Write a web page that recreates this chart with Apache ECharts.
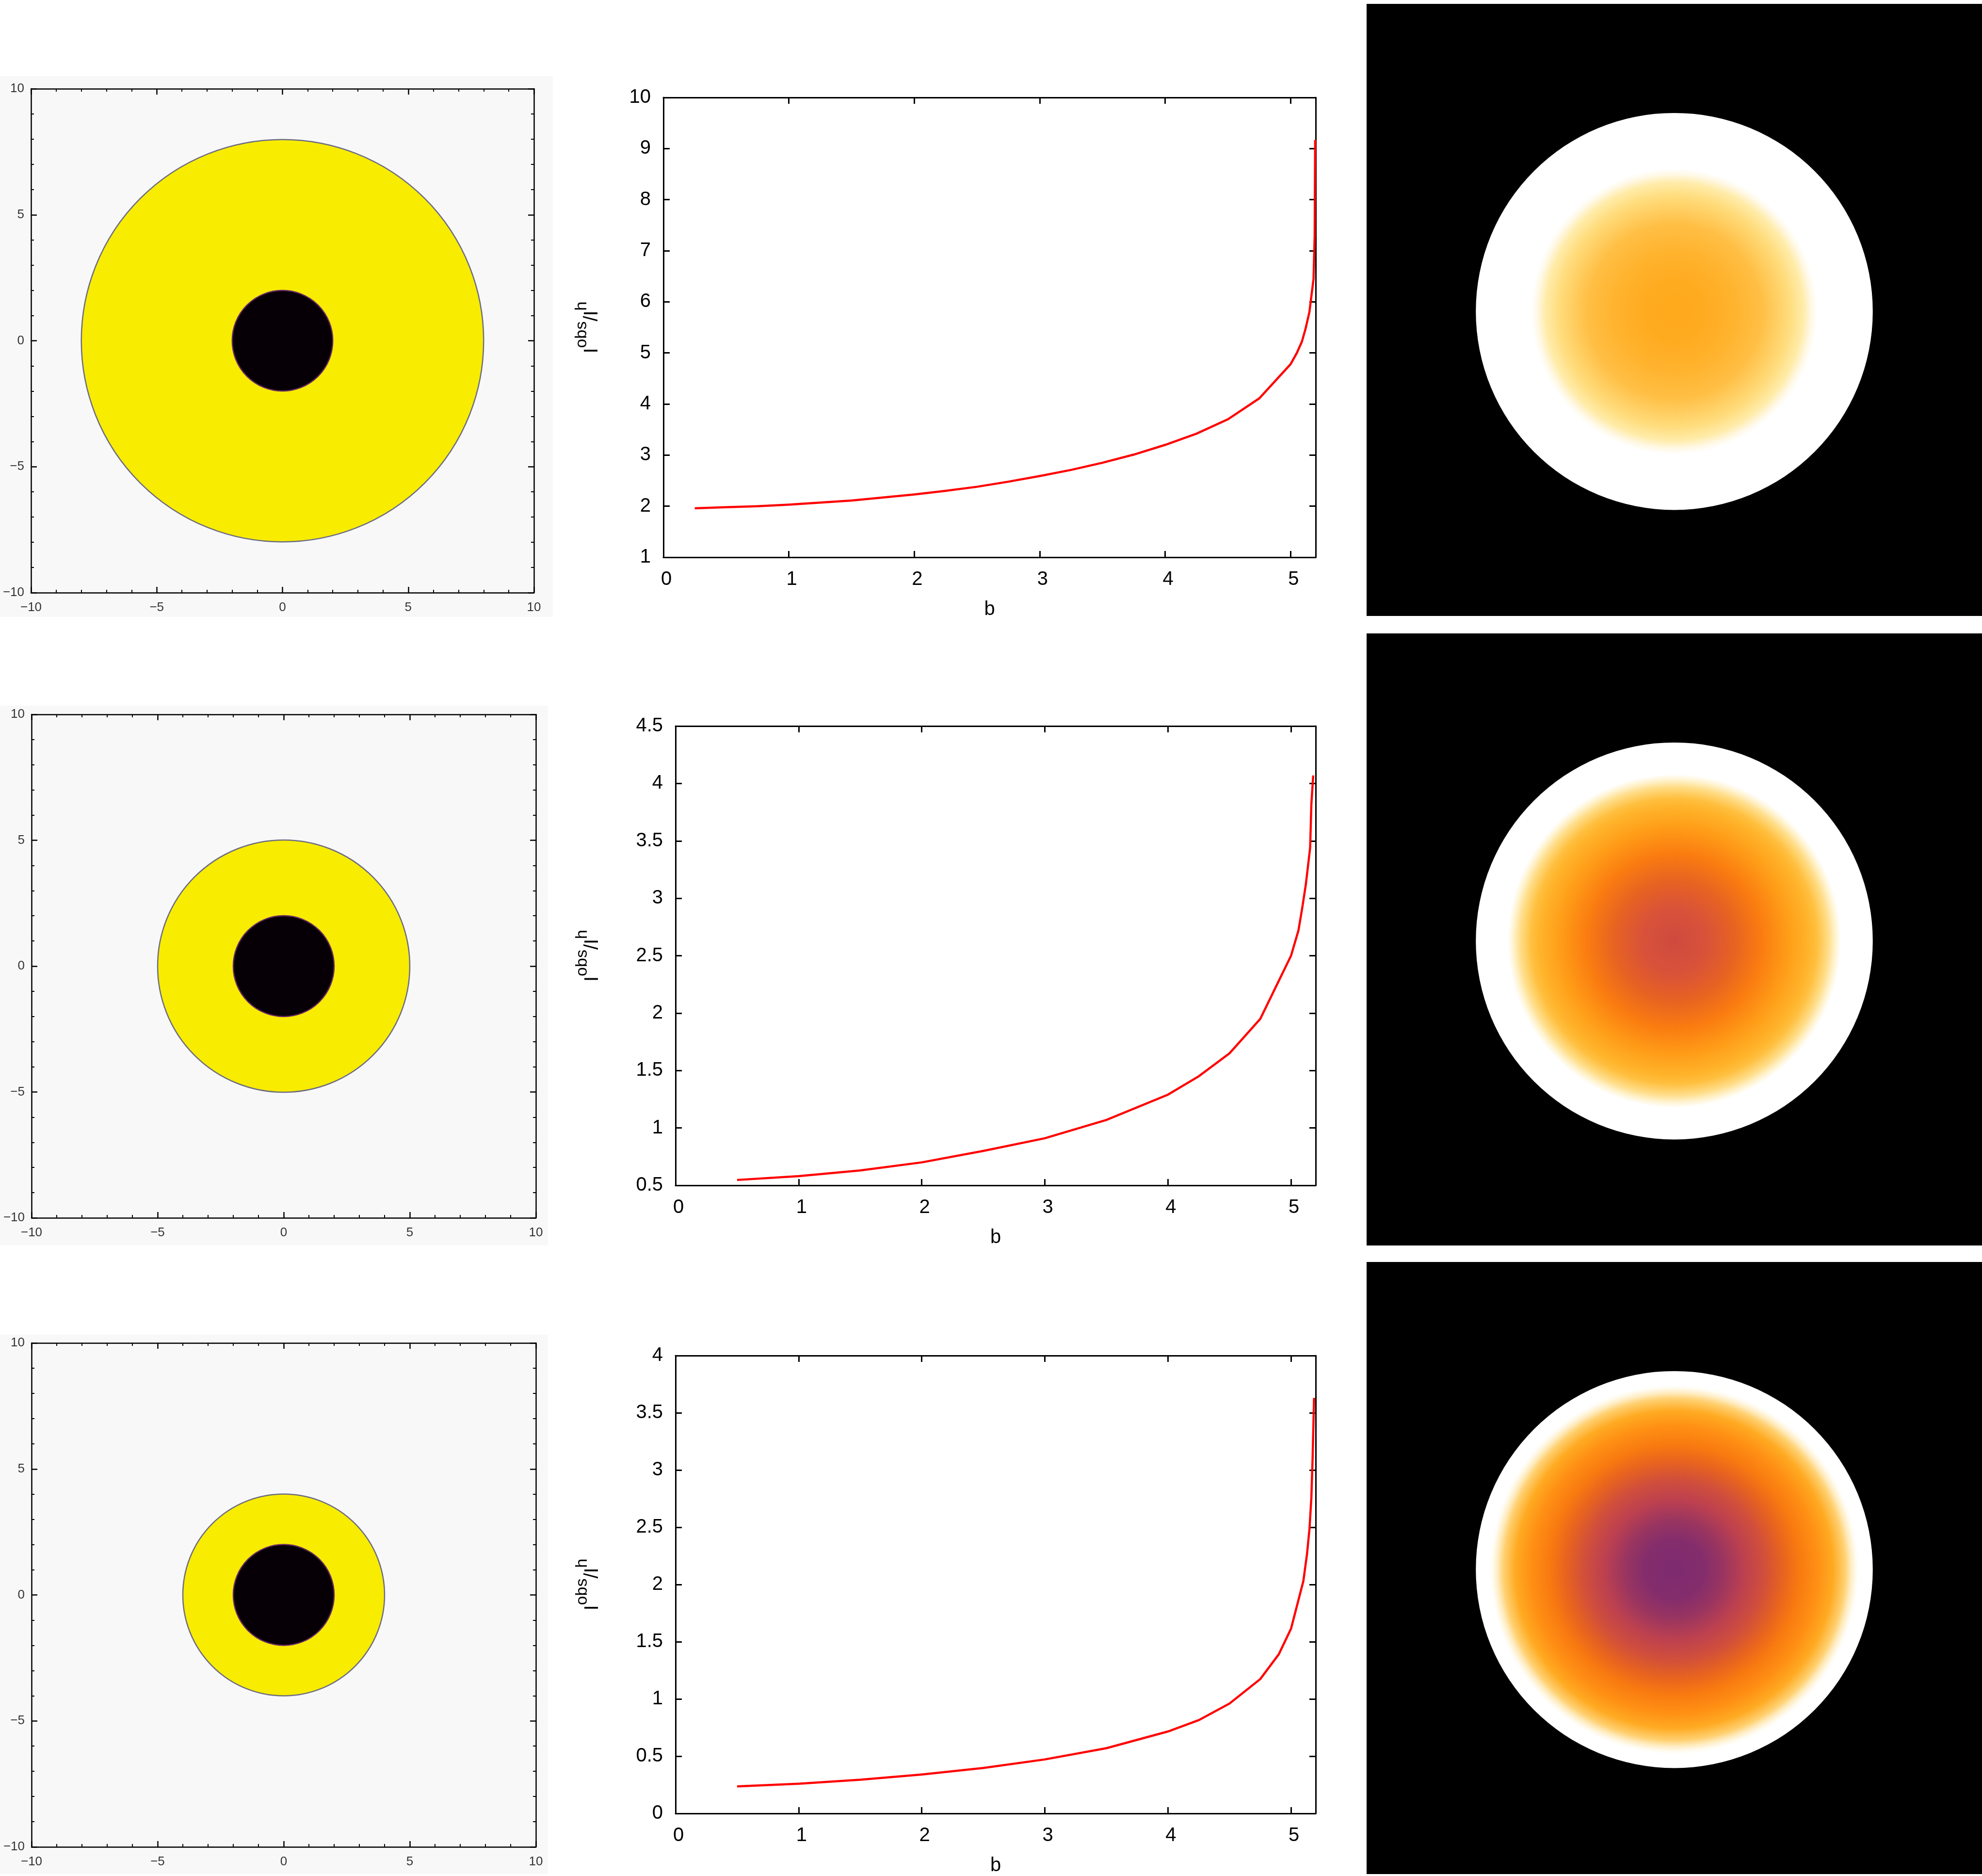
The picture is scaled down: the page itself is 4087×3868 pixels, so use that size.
<!DOCTYPE html>
<html><head><meta charset="utf-8">
<style>html,body{margin:0;padding:0;background:#fff}#c{width:4087px;height:3868px}</style>
<script src="https://cdn.jsdelivr.net/npm/echarts@6/dist/echarts.min.js"></script>
</head><body><div id="c"></div>
<script>
// ---------- data ----------
const shadowOuterRadius = [8, 5, 4];
const shadowInnerRadius = [2, 2, 2];

const curveB1 = [0.25,0.5,0.75,1,1.25,1.5,1.75,2,2.25,2.5,2.75,3,3.25,3.5,3.75,4,4.25,4.5,4.75,5,5.05,5.09,5.12,5.15,5.183,5.192,5.196];
const curveI1 = [1.96,1.98,2.0,2.03,2.07,2.11,2.17,2.23,2.3,2.38,2.48,2.59,2.71,2.85,3.01,3.2,3.42,3.7,4.11,4.78,5.0,5.22,5.48,5.8,6.45,7.3,9.17];
const curveB2 = [0.5,1,1.5,2,2.5,3,3.5,4,4.25,4.5,4.75,5,5.06,5.09,5.12,5.155,5.165,5.18];
const curveI2 = [0.547,0.58,0.63,0.7,0.8,0.91,1.07,1.29,1.45,1.65,1.95,2.5,2.72,2.91,3.12,3.44,3.82,4.07];
const curveB3 = [0.5,1,1.5,2,2.5,3,3.5,4,4.25,4.5,4.75,4.9,5,5.1,5.13,5.15,5.165,5.175,5.187];
const curveI3 = [0.236,0.26,0.294,0.34,0.397,0.472,0.57,0.716,0.815,0.96,1.174,1.39,1.615,2.03,2.27,2.49,2.76,3.1,3.63];

const curveXTicks = [0,1,2,3,4,5];
const curveYTicks1 = [1,2,3,4,5,6,7,8,9,10];
const curveYTicks2 = [0.5,1,1.5,2,2.5,3,3.5,4,4.5];
const curveYTicks3 = [0,0.5,1,1.5,2,2.5,3,3.5,4];

const imageRadius = 5.16;
const ringPos1 = [0,0.15,0.3,0.44,0.58,0.65,0.69,0.72,1];
const ringColor1 = ['#FFA91C','#FFAB20','#FFB32E','#FFBF45','#FFDC7C','#FFECAA','#FFF8E4','#FFFFFF','#FFFFFF'];
const ringPos2 = [0,0.16,0.3,0.44,0.58,0.68,0.72,0.776,0.81,0.84,1];
const ringColor2 = ['#CF4A3E','#D8523A','#E66222','#FA7C10','#FF9E18','#FFB42C','#FFC040','#FFDD88','#FFF2CC','#FFFFFF','#FFFFFF'];
const ringPos3 = [0,0.15,0.25,0.35,0.45,0.55,0.63,0.72,0.8,0.86,0.89,0.915,0.93,1];
const ringColor3 = ['#7D2B70','#842D6C','#9A3560','#BC4050','#D04E3C','#E8641E','#F87A10','#FF8F14','#FFAA22','#FFD070','#FFECC0','#FFFBF0','#FFFFFF','#FFFFFF'];

// ---------- layout ----------
const mapBg  = [[0,157,1140,1115],[0,1455,1130,1113],[0,2752,1130,1112]];
const mapBox = [[64,183,1037,1039],[65,1473,1040,1038],[65,2769,1040,1039]];
const curveBox = [[1368,201,1345,948],[1393,1497,1320,947],[1393,2795,1320,947]];
const imgBox = [[2818,8,1269,1262],[2818,1306,1269,1262],[2818,2602,1269,1262]];
const curves = [[curveB1,curveI1,curveYTicks1],[curveB2,curveI2,curveYTicks2],[curveB3,curveI3,curveYTicks3]];
const rings = [[ringPos1,ringColor1],[ringPos2,ringColor2],[ringPos3,ringColor3]];

const grid=[],xAxis=[],yAxis=[],series=[];
const FONT='"Liberation Sans"';
function addGrid(b,extra){grid.push(Object.assign({left:b[0],top:b[1],width:b[2],height:b[3],containLabel:false},extra||{}));return grid.length-1;}
const minus=v=>String(v).replace('-','\u2212');

for(let p=0;p<3;p++){
  // panel backing
  addGrid(mapBg[p],{show:true,backgroundColor:'#f8f8f8',borderWidth:0});
}
for(let p=0;p<3;p++){
  // left: shadow map
  const g=addGrid(mapBox[p]);
  const common={gridIndex:g,type:'value',min:-10,max:10,interval:5,splitLine:{show:false},
    axisLine:{show:true,onZero:false,lineStyle:{color:'#000',width:2.5}},
    axisTick:{show:true,inside:true,length:12,lineStyle:{color:'#000',width:2.5}},
    minorTick:{show:true,splitNumber:5,length:6,lineStyle:{color:'#000',width:2}}};
  const lab={show:true,color:'#333',fontFamily:FONT,fontSize:26,formatter:minus,hideOverlap:false,showMinLabel:true,showMaxLabel:true};
  const xi=xAxis.length, yi=yAxis.length;
  xAxis.push(Object.assign({},common,{position:'bottom',axisLabel:Object.assign({},lab,{margin:18})}));
  xAxis.push(Object.assign({},common,{position:'top',axisLabel:{show:false}}));
  yAxis.push(Object.assign({},common,{position:'left',axisLabel:Object.assign({},lab,{margin:14})}));
  yAxis.push(Object.assign({},common,{position:'right',axisLabel:{show:false}}));
  series.push({type:'custom',coordinateSystem:'cartesian2d',xAxisIndex:xi,yAxisIndex:yi,silent:true,clip:false,
    data:[[0,0,shadowOuterRadius[p]],[0,0,shadowInnerRadius[p]]],
    renderItem:(params,api)=>{
      const c=api.coord([api.value(0),api.value(1)]);
      const r=api.size([api.value(2),0])[0];
      const d=params.dataIndex===0?['#f8ec00','#6c6c84']:['#060006','#6a2a60'];
      return {type:'circle',shape:{cx:c[0],cy:c[1],r:r},style:{fill:d[0],stroke:d[1],lineWidth:2.5}};
    }});
}
for(let p=0;p<3;p++){
  // middle: curve
  const g=addGrid(curveBox[p]);
  const [bs,is,yt]=curves[p];
  const line={show:true,onZero:false,lineStyle:{color:'#000',width:3}};
  const tick={show:true,inside:true,length:13,lineStyle:{color:'#000',width:3}};
  const xi=xAxis.length, yi=yAxis.length;
  const xc={gridIndex:g,type:'value',min:0,max:5.2,splitLine:{show:false},axisLine:line};
  const yc={gridIndex:g,type:'value',min:yt[0],max:yt[yt.length-1],splitLine:{show:false},axisLine:line};
  xAxis.push(Object.assign({},xc,{position:'bottom',
    axisTick:Object.assign({},tick,{customValues:curveXTicks}),
    axisLabel:{show:true,customValues:curveXTicks,color:'#000',fontFamily:FONT,fontSize:40,margin:26,padding:[0,0,0,12]},
    name:'b',nameLocation:'middle',nameGap:88,nameMoveOverlap:false,nameTextStyle:{color:'#000',fontFamily:FONT,fontSize:40}}));
  xAxis.push(Object.assign({},xc,{position:'top',axisTick:Object.assign({},tick,{customValues:curveXTicks}),axisLabel:{show:false}}));
  yAxis.push(Object.assign({},yc,{position:'left',
    axisTick:Object.assign({},tick,{customValues:yt}),
    axisLabel:{show:true,customValues:yt,color:'#000',fontFamily:FONT,fontSize:40,margin:26},
    name:'{i|I}{s|obs}{i|/I}{s|h}',nameLocation:'middle',nameRotate:90,nameGap:p===0?127:151,nameMoveOverlap:false,
    nameTextStyle:{color:'#000',fontFamily:FONT,rich:{
      i:{fontSize:40,fontFamily:FONT,color:'#000',lineHeight:58,verticalAlign:'bottom'},
      s:{fontSize:34,fontFamily:FONT,color:'#000',lineHeight:58,verticalAlign:'top'}}}}));
  yAxis.push(Object.assign({},yc,{position:'right',axisTick:Object.assign({},tick,{customValues:yt}),axisLabel:{show:false}}));
  series.push({type:'line',xAxisIndex:xi,yAxisIndex:yi,showSymbol:false,symbol:'none',clip:false,silent:true,z:5,
    lineStyle:{color:'#ff0000',width:4.5,cap:'butt',join:'miter'},
    data:bs.map((b,i)=>[b,is[i]])});
}
for(let p=0;p<3;p++){
  // right: image on black
  const g=addGrid(imgBox[p],{show:true,backgroundColor:'#000',borderWidth:0});
  const xi=xAxis.length, yi=yAxis.length;
  xAxis.push({gridIndex:g,type:'value',min:-8,max:8,show:false});
  yAxis.push({gridIndex:g,type:'value',min:-7.96,max:8.04,show:false});
  const [pos,col]=rings[p];
  series.push({type:'custom',coordinateSystem:'cartesian2d',xAxisIndex:xi,yAxisIndex:yi,silent:true,
    data:[[0,0,imageRadius]],
    renderItem:(params,api)=>{
      const c=api.coord([api.value(0),api.value(1)]);
      const r=api.size([api.value(2),0])[0];
      return {type:'circle',shape:{cx:c[0],cy:c[1],r:r},
        style:{fill:new echarts.graphic.RadialGradient(0.5,0.5,0.5,pos.map((o,i)=>({offset:o,color:col[i]})))}};
    }});
}

const chart=echarts.init(document.getElementById('c'),null,{renderer:'canvas',width:4087,height:3868,devicePixelRatio:1});
chart.setOption({animation:false,backgroundColor:'#ffffff',grid,xAxis,yAxis,series});
</script></body></html>
